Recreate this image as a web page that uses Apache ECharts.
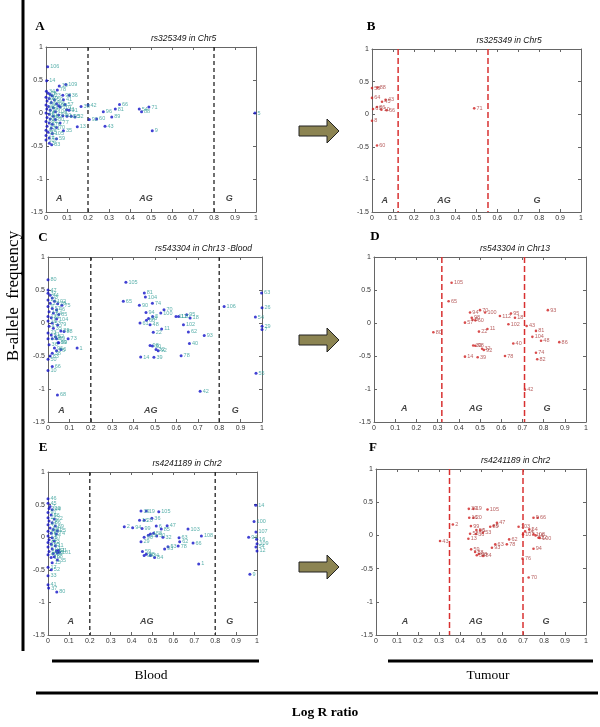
<!DOCTYPE html>
<html><head><meta charset="utf-8">
<script src="https://cdn.jsdelivr.net/npm/echarts@6/dist/echarts.min.js"></script>
<style>html,body{margin:0;padding:0;background:#fff}#c{width:600px;height:727px}</style>
</head><body><div id="c"></div>
<script>
// ---------- DATA ----------
const xTicks = ['0','0.1','0.2','0.3','0.4','0.5','0.6','0.7','0.8','0.9','1'];
const yTicks = ['-1.5','-1','-0.5','0','0.5','1'];
const panelLetters = ['A','B','C','D','E','F'];
const panelTitles = ['rs325349 in Chr5','rs325349 in Chr5','rs543304 in Chr13 -Blood','rs543304 in Chr13','rs4241189 in Chr2','rs4241189 in Chr2'];
const cutsA = [0.2, 0.8], cutsB = [0.125, 0.555], cutsC = [0.2, 0.8], cutsD = [0.32, 0.71], cutsE = [0.2, 0.8], cutsF = [0.35, 0.70];
const zonesA = [[0.063,-1.29,'A'],[0.476,-1.29,'AG'],[0.873,-1.29,'G']];
const zonesB = [[0.061,-1.33,'A'],[0.345,-1.33,'AG'],[0.79,-1.33,'G']];
const zonesC = [[0.0625,-1.32,'A'],[0.48,-1.32,'AG'],[0.875,-1.32,'G']];
const zonesD = [[0.143,-1.30,'A'],[0.48,-1.30,'AG'],[0.816,-1.30,'G']];
const zonesE = [[0.109,-1.30,'A'],[0.473,-1.30,'AG'],[0.87,-1.30,'G']];
const zonesF = [[0.138,-1.295,'A'],[0.475,-1.295,'AG'],[0.81,-1.295,'G']];

const pointsA = [[0.008,0.70,'106'],[0.003,0.49,'14'],[0.063,0.41,'10'],[0.094,0.43,'109'],[0.054,0.35,'78'],[0.08,0.27,'98'],[0.111,0.27,'36'],[0.083,0.20,'41'],[0.067,0.09,'101'],[0.098,0.05,'11'],[0.167,0.10,'38'],[0.20,0.12,'42'],[0.273,0.02,'96'],[0.33,0.06,'81'],[0.35,0.13,'66'],[0.444,0.06,'54'],[0.49,0.09,'71'],[0.455,0.02,'88'],[0.995,0.0,'5'],[0.313,-0.06,'89'],[0.241,-0.09,'60'],[0.206,-0.10,'92'],[0.281,-0.20,'43'],[0.506,-0.27,'9'],[0.138,-0.06,'32'],[0.149,-0.21,'13'],[0.067,-0.15,'77'],[0.05,-0.22,'70'],[0.083,-0.27,'35'],[0.05,-0.39,'59'],[0.027,-0.48,'83'],[0.016,-0.46,'3'],
 [0.002,0.33,'34'],[0.01,0.30,'28'],[0.02,0.28,'7'],[0.03,0.26,'23'],[0.0,0.24,'52'],[0.015,0.22,'39'],[0.04,0.2,'50'],[0.005,0.18,'17'],[0.025,0.16,'64'],[0.05,0.14,'86'],[0.0,0.12,'20'],[0.012,0.1,'45'],[0.035,0.08,'19'],[0.06,0.11,'99'],[0.004,0.06,'58'],[0.02,0.04,'26'],[0.045,0.02,'104'],[0.0,0.0,'48'],[0.015,-0.02,'61'],[0.06,-0.03,'55'],[0.035,-0.05,'82'],[0.005,-0.07,'33'],[0.02,-0.09,'73'],[0.045,-0.1,'30'],[0.0,-0.13,'68'],[0.015,-0.15,'24'],[0.03,-0.17,'76'],[0.005,-0.2,'94'],[0.025,-0.23,'31'],[0.0,-0.26,'47'],[0.01,-0.29,'65'],[0.03,-0.31,'105'],[0.0,-0.34,'22'],[0.015,-0.38,'4'],[0.0,-0.41,'107'],[0.08,-0.04,'90'],[0.1,-0.05,'16'],[0.12,-0.05,'95'],[0.11,0.04,'91'],[0.09,0.13,'57']];
const pointsB = [[0,0.40,'58'],[0.026,0.41,'88'],[0,0.25,'64'],[0.048,0.19,'45'],[0.065,0.22,'43'],[0.024,0.11,'86'],[0.005,0.08,'61'],[0.045,0.07,'10'],[0.07,0.06,'66'],[0,-0.10,'8'],[0.024,-0.48,'60'],[0.489,0.09,'71']];
const pointsC = [[0.364,0.616,'105'],[0.45,0.455,'81'],[0.455,0.394,'104'],[0.352,0.33,'65'],[0.488,0.30,'74'],[0.427,0.27,'90'],[0.542,0.20,'70'],[0.458,0.16,'94'],[0.527,0.15,'100'],[0.489,0.10,'5'],[0.47,0.07,'98'],[0.46,0.04,'60'],[0.598,0.10,'112'],[0.61,0.10,'110'],[0.648,0.126,'95'],[0.664,0.076,'18'],[0.43,0.0,'61'],[0.477,-0.025,'48'],[0.633,-0.025,'102'],[0.531,-0.09,'11'],[0.492,-0.14,'22'],[0.656,-0.136,'62'],[0.73,-0.19,'93'],[0.661,-0.31,'40'],[0.477,-0.34,'98'],[0.488,-0.35,'30'],[0.505,-0.40,'32'],[0.515,-0.42,'92'],[0.433,-0.515,'14'],[0.495,-0.52,'39'],[0.622,-0.495,'78'],[0.711,-1.035,'42'],[0.823,0.25,'106'],[0.998,0.455,'63'],[1.0,0.23,'26'],[0.969,0.09,'54'],[1.0,-0.05,'29'],[1.0,-0.1,'7'],[0.972,-0.76,'55'],
 [0.0,0.656,'80'],[0.0,0.5,'47'],[0.094,-0.24,'73'],[0.136,-0.38,'1'],[0.06,-0.40,'6'],[0.0,-0.55,'50'],[0.0,-0.72,'10'],[0.02,-0.66,'66'],[0.044,-1.09,'68'],[0.047,-0.30,'89'],
 [0.0,0.45,'37'],[0.01,0.42,'44'],[0.02,0.38,'3'],[0.0,0.35,'21'],[0.03,0.33,'102'],[0.01,0.3,'27'],[0.045,0.29,'28'],[0.065,0.27,'75'],[0.0,0.25,'9'],[0.02,0.22,'57'],[0.04,0.2,'46'],[0.005,0.17,'19'],[0.025,0.15,'64'],[0.05,0.13,'85'],[0.0,0.1,'12'],[0.015,0.08,'34'],[0.04,0.06,'104'],[0.0,0.03,'16'],[0.02,0.0,'53'],[0.045,-0.03,'79'],[0.005,-0.05,'4'],[0.025,-0.08,'35'],[0.06,-0.12,'89'],[0.075,-0.13,'88'],[0.0,-0.15,'23'],[0.015,-0.18,'41'],[0.035,-0.21,'52'],[0.0,-0.24,'17'],[0.02,-0.24,'58'],[0.04,-0.24,'69'],[0.05,-0.3,'99'],[0.005,-0.33,'36'],[0.03,-0.38,'96'],[0.04,-0.42,'76'],[0.02,-0.46,'38'],[0.01,-0.5,'83']];
const pointsD = [[0.366,0.61,'105'],[0.352,0.33,'65'],[0.28,-0.14,'80'],[0.453,0.16,'94'],[0.50,0.195,'70'],[0.524,0.16,'100'],[0.461,0.08,'98'],[0.465,0.05,'5'],[0.478,0.04,'60'],[0.429,0.005,'57'],[0.594,0.105,'112'],[0.646,0.145,'95'],[0.665,0.08,'18'],[0.634,-0.02,'102'],[0.535,-0.09,'11'],[0.495,-0.13,'22'],[0.657,-0.31,'40'],[0.468,-0.34,'30'],[0.478,-0.345,'98'],[0.51,-0.39,'32'],[0.518,-0.41,'92'],[0.429,-0.51,'14'],[0.489,-0.52,'39'],[0.618,-0.50,'78'],[0.712,-1.01,'42'],[0.72,-0.045,'43'],[0.764,-0.12,'81'],[0.747,-0.21,'104'],[0.788,-0.27,'48'],[0.874,-0.29,'86'],[0.82,0.195,'93'],[0.764,-0.45,'74'],[0.77,-0.55,'82']];
const pointsE = [[0.365,0.16,'2'],[0.405,0.145,'94'],[0.45,0.135,'99'],[0.438,0.26,'16'],[0.46,0.26,'20'],[0.497,0.29,'36'],[0.445,0.40,'39'],[0.47,0.40,'19'],[0.53,0.39,'105'],[0.518,0.17,'6'],[0.57,0.175,'47'],[0.542,0.125,'85'],[0.67,0.125,'103'],[0.734,0.02,'108'],[0.694,-0.09,'66'],[0.627,-0.01,'63'],[0.63,-0.07,'62'],[0.623,-0.135,'78'],[0.574,-0.145,'53'],[0.558,-0.18,'93'],[0.55,0.0,'32'],[0.46,0.0,'96'],[0.49,0.05,'1'],[0.505,0.06,'58'],[0.48,0.03,'13'],[0.445,-0.07,'29'],[0.52,0.02,'50'],[0.452,-0.22,'59'],[0.47,-0.26,'88'],[0.49,-0.28,'34'],[0.51,-0.31,'84'],[0.46,-0.28,'98'],[0.721,-0.41,'1'],
 [0.994,0.49,'14'],[0.986,0.24,'100'],[0.995,0.08,'107'],[0.96,0.0,'94'],[0.998,-0.03,'16'],[1.0,-0.1,'109'],[0.995,-0.15,'54'],[1.0,-0.21,'12'],[0.966,-0.57,'9'],
 [0.0,0.59,'46'],[0.005,0.44,'109'],[0.045,0.10,'25'],[0.05,-0.2,'21'],[0.045,-0.35,'35'],[0.02,-0.39,'15'],[0.016,-0.50,'52'],[0.0,-0.46,'17'],[0.0,-0.59,'33'],[0.0,-0.73,'41'],[0.003,-0.78,'37'],[0.042,-0.84,'80'],
 [0.0,0.52,'45'],[0.01,0.47,'7'],[0.02,0.42,'44'],[0.0,0.38,'91'],[0.015,0.34,'56'],[0.0,0.30,'27'],[0.03,0.28,'22'],[0.005,0.25,'73'],[0.02,0.22,'86'],[0.0,0.19,'40'],[0.035,0.17,'89'],[0.01,0.14,'60'],[0.025,0.12,'31'],[0.0,0.09,'48'],[0.015,0.06,'65'],[0.04,0.05,'74'],[0.0,0.02,'71'],[0.02,-0.01,'57'],[0.005,-0.04,'26'],[0.03,-0.06,'3'],[0.0,-0.08,'42'],[0.015,-0.11,'95'],[0.035,-0.13,'11'],[0.0,-0.15,'8'],[0.02,-0.18,'61'],[0.04,-0.21,'81'],[0.005,-0.22,'82'],[0.025,-0.25,'38'],[0.0,-0.27,'49'],[0.045,-0.24,'5'],[0.055,-0.23,'101'],[0.015,-0.31,'10'],[0.03,-0.3,'68']];
const pointsF = [[0.305,-0.085,'43'],[0.366,0.165,'2'],[0.442,0.40,'39'],[0.464,0.40,'19'],[0.531,0.39,'105'],[0.444,0.265,'16'],[0.464,0.265,'20'],[0.452,0.14,'99'],[0.576,0.19,'47'],[0.544,0.13,'85'],[0.56,0.145,'6'],[0.478,0.08,'96'],[0.496,0.075,'1'],[0.448,0.025,'58'],[0.476,0.02,'36'],[0.509,0.04,'53'],[0.44,-0.05,'13'],[0.568,-0.135,'63'],[0.552,-0.185,'93'],[0.634,-0.06,'62'],[0.623,-0.135,'78'],[0.453,-0.21,'59'],[0.472,-0.25,'88'],[0.49,-0.28,'98'],[0.48,-0.3,'34'],[0.51,-0.31,'84'],[0.679,0.13,'103'],[0.70,0.015,'107'],[0.73,0.09,'54'],[0.71,0.06,'14'],[0.75,0.015,'108'],[0.76,0.0,'16'],[0.774,-0.035,'12'],[0.78,-0.04,'100'],[0.75,0.265,'9'],[0.77,0.265,'66'],[0.75,-0.20,'94'],[0.698,-0.35,'76'],[0.727,-0.635,'70']];

// ---------- LAYOUT ----------
const grids = [
  {left:46, top:47, width:210, height:165},
  {left:372, top:49, width:209, height:163},
  {left:48, top:257, width:214, height:165},
  {left:374, top:257, width:212, height:165},
  {left:48, top:472, width:209, height:163},
  {left:376, top:469, width:210, height:166}
];
const allPoints = [pointsA, pointsB, pointsC, pointsD, pointsE, pointsF];
const allCuts = [cutsA, cutsB, cutsC, cutsD, cutsE, cutsF];
const allZones = [zonesA, zonesB, zonesC, zonesD, zonesE, zonesF];
const isTumour = [false, true, false, true, false, true];

const SANS = '"Liberation Sans", Arial, sans-serif';
const SERIF = '"Liberation Serif", "Times New Roman", serif';
const fmt = v => { const s = (+v).toFixed(1); return s.endsWith('.0') ? s.slice(0, -2) : s; };

const xAxis = [], yAxis = [], series = [], graphic = [];
grids.forEach((g, i) => {
  const axisLine = {show:true, onZero:false, lineStyle:{color:'#666', width:1}};
  const tickIn = {show:true, inside:true, length:3, lineStyle:{color:'#666'}};
  xAxis.push({gridIndex:i, type:'value', min:0, max:1, interval:0.1, position:'bottom',
    axisLine, axisTick:tickIn, splitLine:{show:false},
    axisLabel:{fontSize:7, color:'#333', fontFamily:SANS, margin:3, formatter:fmt}});
  xAxis.push({gridIndex:i, type:'value', min:0, max:1, interval:0.1, position:'top',
    axisLine, axisTick:tickIn, splitLine:{show:false}, axisLabel:{show:false}});
  yAxis.push({gridIndex:i, type:'value', min:-1.5, max:1, interval:0.5, position:'left',
    axisLine, axisTick:tickIn, splitLine:{show:false},
    axisLabel:{fontSize:7, color:'#333', fontFamily:SANS, margin:3, formatter:fmt}});
  yAxis.push({gridIndex:i, type:'value', min:-1.5, max:1, interval:0.5, position:'right',
    axisLine, axisTick:tickIn, splitLine:{show:false}, axisLabel:{show:false}});
  const xi = 2*i, yi = 2*i;
  const tum = isTumour[i];
  allCuts[i].forEach(c => {
    series.push({type:'line', xAxisIndex:xi, yAxisIndex:yi, data:[[c,1],[c,-1.5]], symbol:'none', silent:true,
      lineStyle: tum ? {color:'#d83030', width:1.5, type:[6,3]} : {color:'#222', width:1.3, type:[4,3]}, z:1});
  });
  series.push({type:'scatter', xAxisIndex:xi, yAxisIndex:yi, data:allPoints[i], symbol:'circle',
    symbolSize: tum ? 2.6 : 3, encode:{x:0, y:1}, silent:true,
    itemStyle:{color: tum ? '#d02020' : '#1212c8'},
    label:{show:true, position:'right', distance:1, fontSize:5.5, fontFamily:SANS,
      color: tum ? '#a83a3a' : '#2f9c96', formatter: p => p.data[2]}, z:3});
  series.push({type:'scatter', xAxisIndex:xi, yAxisIndex:yi, data:allZones[i], symbolSize:0, encode:{x:0,y:1}, silent:true,
    label:{show:true, position:'inside', fontSize:9, fontStyle:'italic', fontWeight:'bold', fontFamily:SANS, color:'#111',
      formatter: p => p.data[2]}});
  graphic.push({type:'text', left: g.left + g.width/2, top: g.top - 13, style:{text: panelTitles[i], font:'italic 8.5px ' + SANS, fill:'#111', textAlign:'center'}});
});
const letterPos = [[40,27],[371,27],[43,238],[375,237],[43,448],[373,448]];
letterPos.forEach((p, i) => graphic.push({type:'text', x:p[0], y:p[1], style:{text:panelLetters[i], font:'bold 13px ' + SERIF, fill:'#000', textAlign:'center', textVerticalAlign:'middle'}}));

[131, 340, 567].forEach(cy => {
  graphic.push({type:'polygon', shape:{points:[[299,cy-5],[327,cy-5],[327,cy-12],[339,cy],[327,cy+12],[327,cy+5],[299,cy+5]]},
    style:{fill:'#8c8452', stroke:'#222', lineWidth:1}});
});
graphic.push({type:'line', shape:{x1:23, y1:0, x2:23, y2:651}, style:{stroke:'#000', lineWidth:3}});
graphic.push({type:'line', shape:{x1:52, y1:661, x2:259, y2:661}, style:{stroke:'#000', lineWidth:3}});
graphic.push({type:'line', shape:{x1:388, y1:661, x2:593, y2:661}, style:{stroke:'#000', lineWidth:3}});
graphic.push({type:'line', shape:{x1:36, y1:693, x2:598, y2:693}, style:{stroke:'#000', lineWidth:3}});
graphic.push({type:'text', x:151, y:675, style:{text:'Blood', font:'13.5px ' + SERIF, fill:'#000', textAlign:'center', textVerticalAlign:'middle'}});
graphic.push({type:'text', x:488, y:675, style:{text:'Tumour', font:'13.5px ' + SERIF, fill:'#000', textAlign:'center', textVerticalAlign:'middle'}});
graphic.push({type:'text', x:325, y:713, style:{text:'Log R ratio', font:'bold 13.5px ' + SERIF, fill:'#000', textAlign:'center', textVerticalAlign:'middle'}});
graphic.push({type:'text', x:14, y:296, rotation:Math.PI/2, style:{text:'B-allele  frequency', font:'17px ' + SERIF, fill:'#000', textAlign:'center', textVerticalAlign:'middle'}});

const chart = echarts.init(document.getElementById('c'), null, {renderer:'canvas'});
chart.setOption({
  animation:false,
  backgroundColor:'#fff',
  grid: grids.map(g => Object.assign({containLabel:false}, g)),
  xAxis, yAxis, series, graphic
});
</script></body></html>
